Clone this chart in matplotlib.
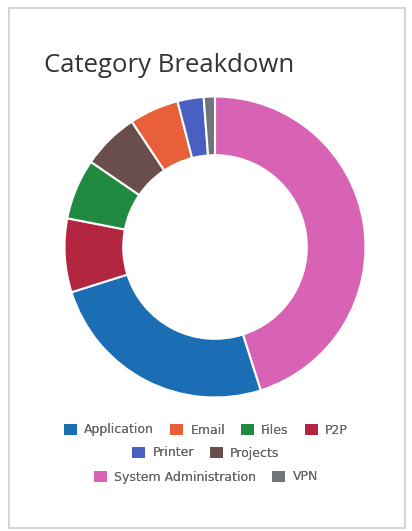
import matplotlib.pyplot as plt
from matplotlib.patches import Rectangle, Patch

# data, in legend order
categories = ['Application', 'Email', 'Files', 'P2P', 'Printer', 'Projects',
              'System Administration', 'VPN']
values = [25.0, 5.3, 6.5, 7.9, 2.8, 6.1, 45.0, 1.2]
colors = ['#1b6db4', '#e85f3a', '#1f8a40', '#b3263f', '#4a5fc2', '#6a4e4e',
          '#d862b3', '#6f737c']

# slices drawn clockwise from the top, largest first
order = sorted(range(len(values)), key=lambda i: -values[i])

W, H = 412, 531
fig = plt.figure(figsize=(W / 100, H / 100), dpi=100)
fig.patch.set_facecolor('white')

# card border
fig.add_artist(Rectangle((9 / W, 1 - 528 / H), 396 / W, 520 / H,
                         transform=fig.transFigure, fill=False,
                         edgecolor='#d6d6d6', linewidth=1.5))

fig.text(44 / W, 1 - 66 / H, 'Category Breakdown', fontsize=18.5,
         color='#333333', ha='left', va='center', family='Open Sans')

# donut
cx, cy, r = 215, 247, 152
ax = fig.add_axes([(cx - r) / W, 1 - (cy + r) / H, 2 * r / W, 2 * r / H])
ax.pie([values[i] for i in order], colors=[colors[i] for i in order],
       startangle=90, counterclock=False,
       wedgeprops=dict(width=0.39, edgecolor='white', linewidth=1.5))
ax.set_xlim(-1.01, 1.01)
ax.set_ylim(-1.01, 1.01)
ax.set_aspect('equal')
ax.axis('off')

# legend rows, centred like the original
rows = [[0, 1, 2, 3], [4, 5], [6, 7]]
row_y = [430, 453, 477]
for idx, yy in zip(rows, row_y):
    handles = [Patch(facecolor=colors[i], label=categories[i]) for i in idx]
    leg = fig.legend(handles=handles, loc='center', ncol=len(idx),
                     bbox_to_anchor=(0.5, 1 - yy / H), frameon=False,
                     fontsize=9, handlelength=1.0, handleheight=1.0,
                     handletextpad=0.6, columnspacing=1.3, labelcolor='#666666')
    fig.add_artist(leg)

plt.savefig('out.png', dpi=100)
